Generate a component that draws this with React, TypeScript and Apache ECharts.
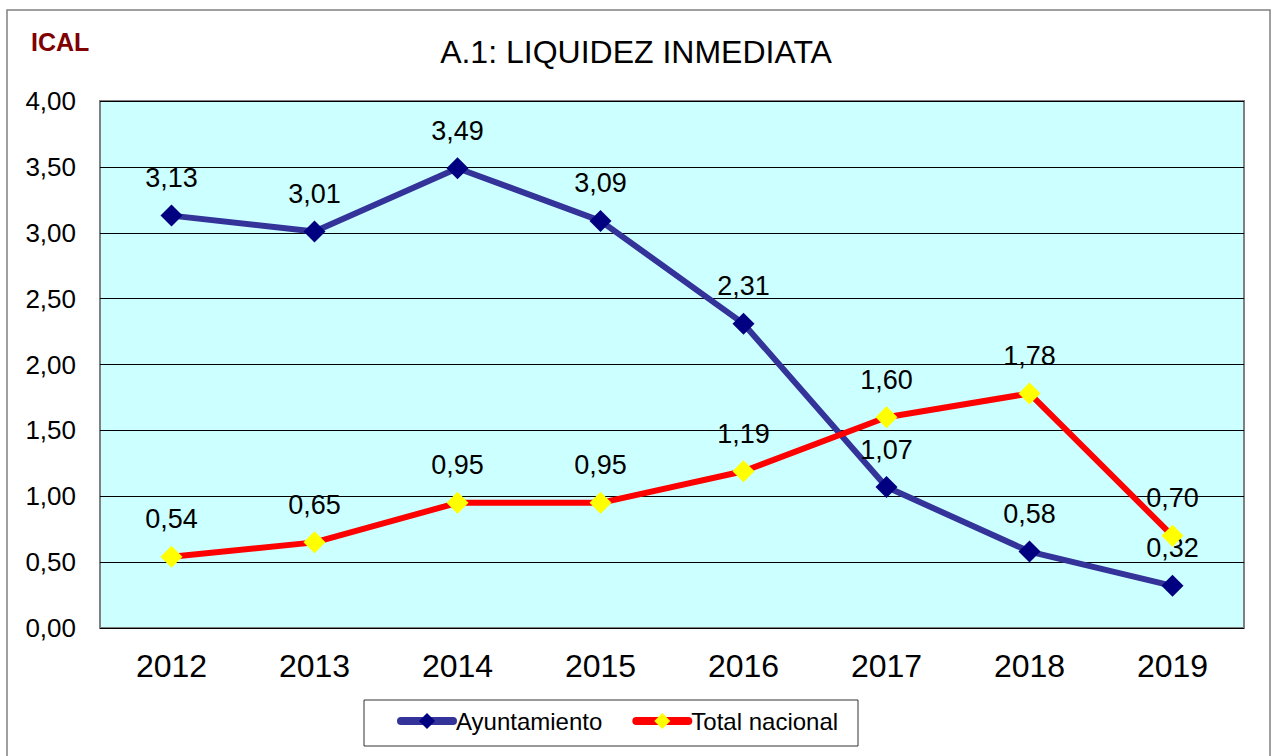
import React, { useEffect, useRef } from "react";
import * as echarts from "echarts";

const years = ["2012", "2013", "2014", "2015", "2016", "2017", "2018", "2019"];
const ayuntamiento = [3.13, 3.01, 3.49, 3.09, 2.31, 1.07, 0.58, 0.32];
const totalNacional = [0.54, 0.65, 0.95, 0.95, 1.19, 1.6, 1.78, 0.7];
const seriesNames = ["Ayuntamiento", "Total nacional"];

const FONT = "'Liberation Sans', Arial, sans-serif";
const fmt = (v: number) => v.toFixed(2).replace(".", ",");

export default function App() {
  const ref = useRef<HTMLDivElement>(null);
  useEffect(() => {
    if (!ref.current) return;
    const chart = echarts.init(ref.current, undefined, { renderer: "svg" });
    chart.setOption({
      animation: false,
      backgroundColor: "#ffffff",
      textStyle: { fontFamily: FONT },
      title: {
        text: "A.1: LIQUIDEZ INMEDIATA",
        left: "center",
        top: 31,
        textStyle: { fontFamily: FONT, fontSize: 32, fontWeight: "normal", color: "#000" },
      },
      graphic: [
        {
          type: "rect",
          shape: { x: 7, y: 10, width: 1263, height: 760 },
          style: { fill: "none", stroke: "#808080", lineWidth: 1.5 },
          silent: true,
        },
        {
          type: "text",
          left: 31,
          top: 29,
          style: { text: "ICAL", fill: "#800000", font: `bold 25px ${FONT}` },
        },
        {
          type: "rect",
          shape: { x: 364, y: 700, width: 494, height: 46 },
          style: { fill: "#fff", stroke: "#333", lineWidth: 1 },
          z: 0,
          silent: true,
        },
      ],
      legend: {
        data: seriesNames,
        left: 397,
        top: 709,
        itemWidth: 52,
        itemHeight: 20,
        itemGap: 30,
        padding: 0,
        lineStyle: { width: 8, cap: "round" },
        textStyle: { fontFamily: FONT, fontSize: 24, color: "#000", padding: [0, 0, 0, -2] },
        z: 5,
      },
      grid: {
        left: 100,
        top: 101,
        right: 28,
        bottom: 128,
        show: true,
        backgroundColor: "#CCFFFF",
        borderColor: "#808080",
        borderWidth: 2,
      },
      xAxis: {
        type: "category",
        data: years,
        boundaryGap: true,
        axisLine: { show: false },
        axisTick: { show: false },
        axisLabel: { fontFamily: FONT, fontSize: 32, color: "#000", margin: 22 },
      },
      yAxis: {
        type: "value",
        min: 0,
        max: 4,
        interval: 0.5,
        axisLine: { show: false },
        axisTick: { show: false },
        splitLine: { lineStyle: { color: "#000", width: 1 } },
        axisLabel: { fontFamily: FONT, fontSize: 26, color: "#000", margin: 24, formatter: fmt },
      },
      series: [
        {
          name: seriesNames[0],
          type: "line",
          data: ayuntamiento,
          symbol: "diamond",
          symbolSize: 22,
          lineStyle: { color: "#333399", width: 6 },
          itemStyle: { color: "#000080" },
          label: {
            show: true,
            position: "top",
            distance: 13,
            fontFamily: FONT,
            fontSize: 27,
            color: "#000",
            formatter: (p: any) => fmt(p.value),
          },
          z: 2,
        },
        {
          name: seriesNames[1],
          type: "line",
          data: totalNacional,
          symbol: "diamond",
          symbolSize: 22,
          lineStyle: { color: "#FF0000", width: 6 },
          itemStyle: { color: "#FFFF00" },
          label: {
            show: true,
            position: "top",
            distance: 13,
            fontFamily: FONT,
            fontSize: 27,
            color: "#000",
            formatter: (p: any) => fmt(p.value),
          },
          z: 3,
        },
      ],
    });
    return () => chart.dispose();
  }, []);
  return (
    <div
      ref={ref}
      style={{ position: "fixed", left: 0, top: 0, width: 1272, height: 756 }}
    />
  );
}
